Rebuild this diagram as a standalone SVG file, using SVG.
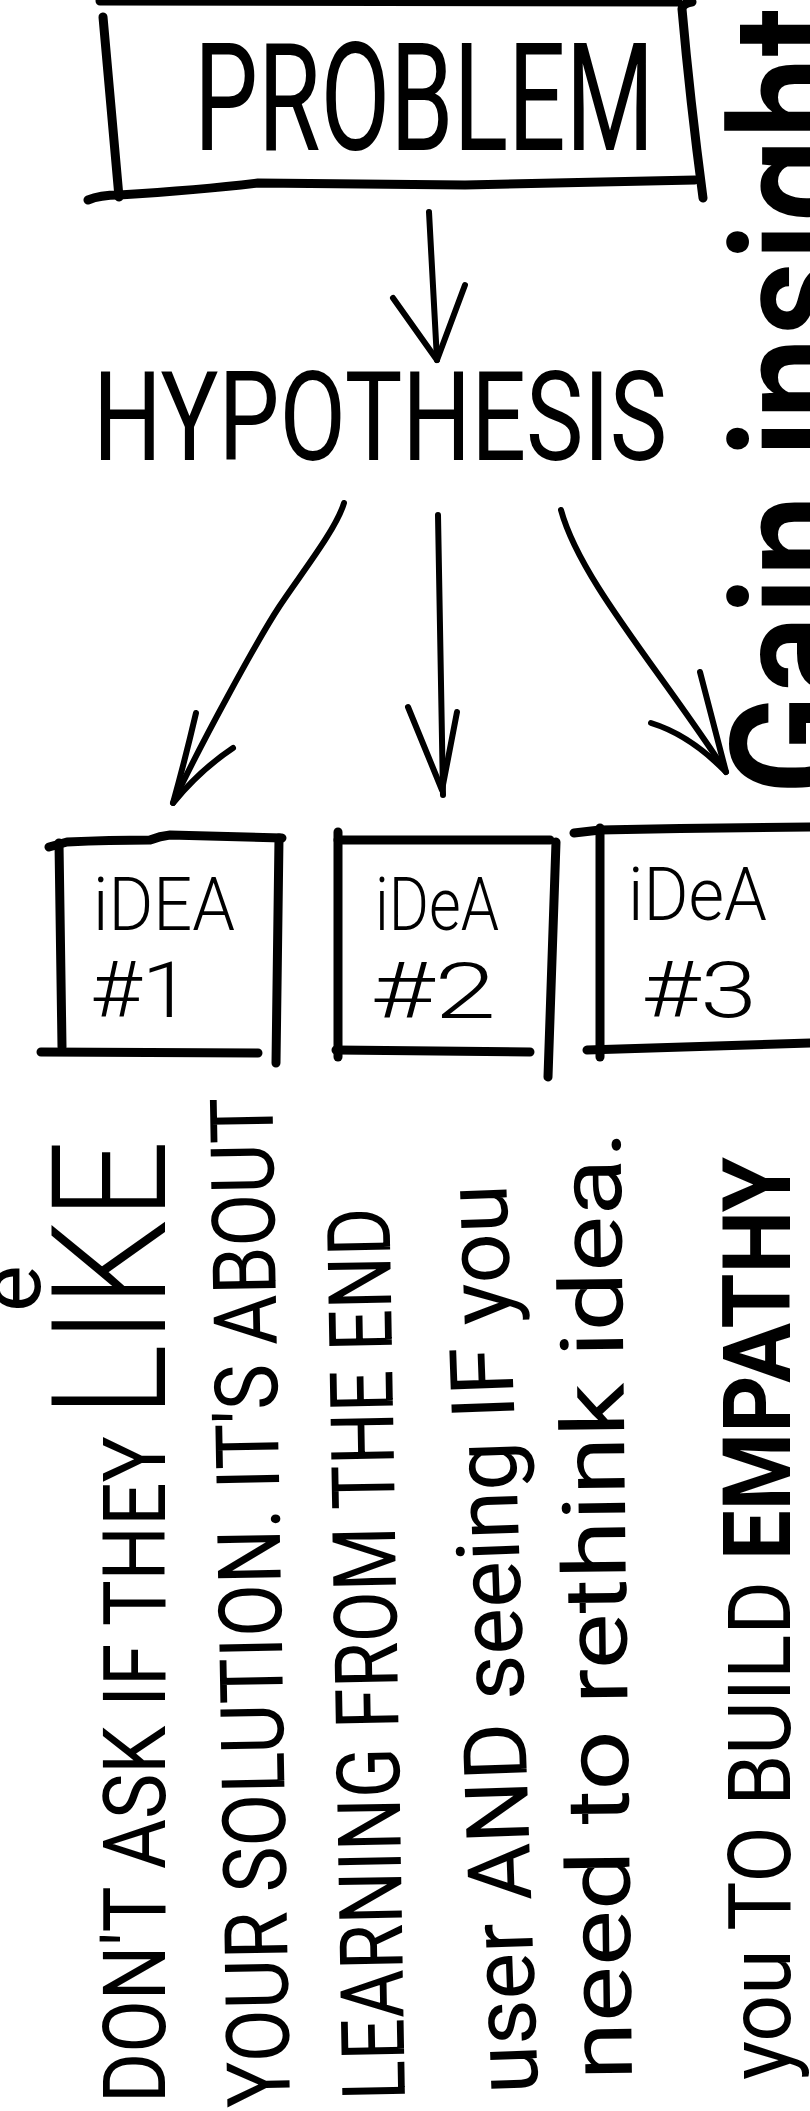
<svg xmlns="http://www.w3.org/2000/svg" width="810" height="2111" viewBox="0 0 810 2111">
<style>
.ln{fill:none;stroke:#000;stroke-linecap:round;stroke-linejoin:round}
.box{stroke-width:9}
.arr{stroke-width:6}
.hw{font-family:Roboto,"Liberation Sans",sans-serif;fill:#000}
.thin{font-weight:300}
.note{font-family:Roboto,"Liberation Sans",sans-serif;font-size:88px;font-weight:400;fill:#000}
</style>
<rect width="810" height="2111" fill="#fff"/>

<g id="problem">
  <path class="ln box" d="M100,1 L678,2"/>
  <path class="ln box" d="M103,17 Q110,100 119,197"/>
  <path class="ln box" d="M88,200 Q100,195 119,195 Q200,190 258,183 L465,185 L695,180"/>
  <path class="ln box" d="M692,2 Q683,3 682,9 Q690,100 703,198"/>
  <text class="hw" font-size="150" transform="translate(194,150) scale(0.6,1)" textLength="767" lengthAdjust="spacingAndGlyphs">PROBLEM</text>
</g>

<g id="hypothesis">
  <text class="hw" font-size="125" transform="translate(93,460) scale(0.7,1)" textLength="820" lengthAdjust="spacingAndGlyphs">HYPOTHESIS</text>
</g>

<g id="idea1">
  <path class="ln box" d="M49,847 L67,842 Q110,840 150,840 Q160,836 170,835 L282,838"/>
  <path class="ln box" d="M59,843 L62,1047"/>
  <path class="ln box" d="M41,1052 L258,1053"/>
  <path class="ln box" d="M279,838 L276,1063"/>
  <text class="hw thin" x="93" y="930" font-size="74" textLength="142" lengthAdjust="spacingAndGlyphs">iDEA</text>
  <text class="hw thin" x="90" y="1017" font-size="78" textLength="101" lengthAdjust="spacingAndGlyphs">#1</text>
</g>

<g id="idea2">
  <path class="ln box" d="M338,832 L338,1057"/>
  <path class="ln box" d="M338,840 L550,840"/>
  <path class="ln box" d="M556,842 Q552,960 548,1077"/>
  <path class="ln box" d="M336,1050 L530,1052"/>
  <text class="hw thin" x="375" y="930" font-size="74" textLength="124" lengthAdjust="spacingAndGlyphs">iDeA</text>
  <text class="hw thin" x="370" y="1018" font-size="78" textLength="126" lengthAdjust="spacingAndGlyphs">#2</text>
</g>

<g id="idea3">
  <path class="ln box" d="M574,833 L600,830 Q700,828 812,827"/>
  <path class="ln box" d="M600,828 L600,1057"/>
  <path class="ln box" d="M587,1050 L812,1043"/>
  <text class="hw thin" x="628" y="920" font-size="74" textLength="139" lengthAdjust="spacingAndGlyphs">iDeA</text>
  <text class="hw thin" x="641" y="1017" font-size="78" textLength="116" lengthAdjust="spacingAndGlyphs">#3</text>
</g>

<g id="gain-insight">
  <text class="hw" font-weight="600" font-size="170" transform="translate(852,795) rotate(-90)" textLength="788" lengthAdjust="spacingAndGlyphs">Gain insight</text>
</g>

<g id="note">
  <text class="note" font-size="40" transform="translate(40,1312) rotate(-90)">e</text>
  <text class="note" transform="translate(165,2103) rotate(-90)" textLength="963" lengthAdjust="spacingAndGlyphs">DON'T ASK IF THEY <tspan font-size="160" font-weight="300">LIKE</tspan></text>
  <text class="note" transform="translate(290,2107) rotate(-91)" textLength="1010" lengthAdjust="spacingAndGlyphs">YOUR SOLUTION. IT'S ABOUT</text>
  <text class="note" transform="translate(405,2100) rotate(-91)" textLength="893" lengthAdjust="spacingAndGlyphs">LEARNING FROM THE END</text>
  <text class="note" transform="translate(538,2093) rotate(-92)" textLength="910" lengthAdjust="spacingAndGlyphs">user AND seeing IF you</text>
  <text class="note" transform="translate(632,2080) rotate(-90.7)" textLength="950" lengthAdjust="spacingAndGlyphs">need to rethink idea.</text>
  <text class="note" transform="translate(790,2080) rotate(-90)" textLength="923" lengthAdjust="spacingAndGlyphs">you TO BUILD <tspan font-weight="700" font-size="95">EMPATHY</tspan></text>
</g>

<g id="connectors">
  <path class="ln arr" d="M429,212 L437,360"/>
  <path class="ln arr" d="M393,298 L437,360 L465,285"/>
  <path class="ln arr" d="M344,503 C336,530 300,575 279,607 S200,745 173,803"/>
  <path class="ln arr" d="M196,713 Q185,760 173,803 Q200,770 233,748"/>
  <path class="ln arr" d="M438,515 L443,795"/>
  <path class="ln arr" d="M408,707 L442,790 L457,712"/>
  <path class="ln arr" d="M561,510 C580,580 660,670 726,772"/>
  <path class="ln arr" d="M700,672 L726,772 Q690,735 651,723"/>
</g>
</svg>
